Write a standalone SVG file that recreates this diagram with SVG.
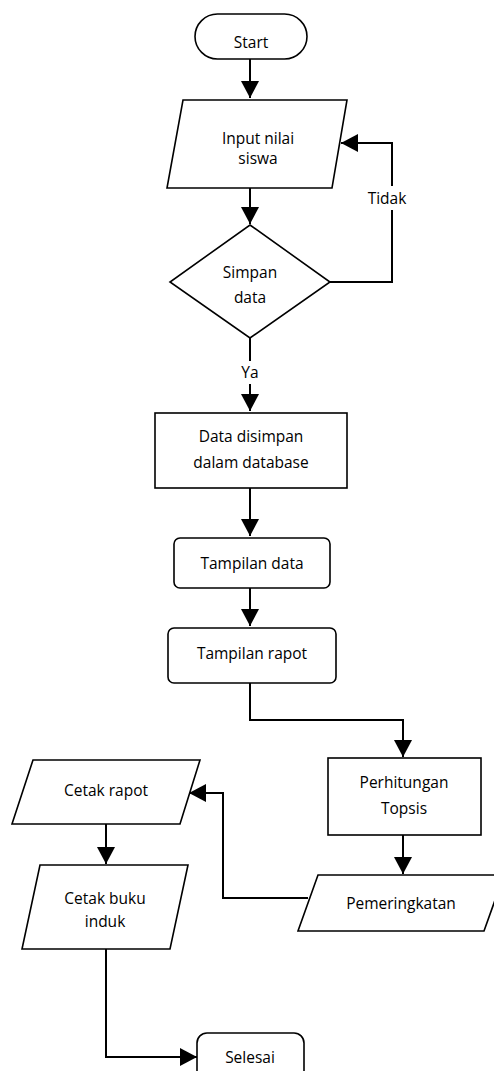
<svg xmlns="http://www.w3.org/2000/svg" width="494" height="1071" viewBox="0 0 494 1071">
  <style>
    .shape { fill: #fff; stroke: #000; stroke-width: 1.6; }
    .label { font-family: "Open Sans", Lato, sans-serif; font-size: 15.5px; fill: #000; text-anchor: middle; dominant-baseline: central; }
    .edge { fill: none; stroke: #000; stroke-width: 2; }
  </style>
  <defs>
    <marker id="arrow" markerUnits="userSpaceOnUse" markerWidth="18" markerHeight="18" refX="17" refY="9" orient="auto">
      <path d="M0,0 L17,9 L0,18 z" fill="#000"/>
    </marker>
  </defs>
  <rect width="494" height="1071" fill="#fff"/>

  <g id="connectors">
    <path class="edge" d="M250,59 V98" marker-end="url(#arrow)"/>
    <path class="edge" d="M250,188 V224" marker-end="url(#arrow)"/>
    <path class="edge" d="M330,282 H392 V210 M392,186 V143 H341" marker-end="url(#arrow)"/>
    <path class="edge" d="M250,338 V361 M250,384 V411" marker-end="url(#arrow)"/>
    <path class="edge" d="M250,488 V536" marker-end="url(#arrow)"/>
    <path class="edge" d="M250,588 V626" marker-end="url(#arrow)"/>
    <path class="edge" d="M250,683 V720 H403 V757" marker-end="url(#arrow)"/>
    <path class="edge" d="M403,835 V874" marker-end="url(#arrow)"/>
    <path class="edge" d="M308,898 H223 V793 H189" marker-end="url(#arrow)"/>
    <path class="edge" d="M106,824 V864" marker-end="url(#arrow)"/>
    <path class="edge" d="M106,949 V1057 H197" marker-end="url(#arrow)"/>
    <text class="label" x="387" y="198">Tidak</text>
    <text class="label" x="250" y="372">Ya</text>
  </g>

  <g id="start">
    <rect class="shape" x="195" y="14" width="112" height="45" rx="22.5"/>
    <text class="label" x="251" y="42">Start</text>
  </g>

  <g id="input-nilai">
    <polygon class="shape" points="183,100 347,100 332,188 167,188"/>
    <text class="label" x="258" y="138">Input nilai</text>
    <text class="label" x="258" y="158">siswa</text>
  </g>

  <g id="simpan-data">
    <polygon class="shape" points="250,225 330,282 250,338 170,282"/>
    <text class="label" x="250" y="272">Simpan</text>
    <text class="label" x="250" y="297">data</text>
  </g>

  <g id="data-disimpan">
    <rect class="shape" x="155" y="413" width="192" height="75"/>
    <text class="label" x="251" y="436">Data disimpan</text>
    <text class="label" x="251" y="462">dalam database</text>
  </g>

  <g id="tampilan-data">
    <rect class="shape" x="174" y="538" width="156" height="50" rx="6"/>
    <text class="label" x="252" y="563">Tampilan data</text>
  </g>

  <g id="tampilan-rapot">
    <rect class="shape" x="168" y="628" width="168" height="55" rx="6"/>
    <text class="label" x="252" y="653">Tampilan rapot</text>
  </g>

  <g id="perhitungan-topsis">
    <rect class="shape" x="328" y="758" width="153" height="77"/>
    <text class="label" x="404" y="782">Perhitungan</text>
    <text class="label" x="404" y="808">Topsis</text>
  </g>

  <g id="pemeringkatan">
    <polygon class="shape" points="318,875 504,875 484,931 298,931"/>
    <text class="label" x="401" y="903">Pemeringkatan</text>
  </g>

  <g id="cetak-rapot">
    <polygon class="shape" points="33,760 200,760 180,824 12,824"/>
    <text class="label" x="106" y="790">Cetak rapot</text>
  </g>

  <g id="cetak-buku-induk">
    <polygon class="shape" points="40,865 188,865 170,949 22,949"/>
    <text class="label" x="105" y="898">Cetak buku</text>
    <text class="label" x="105" y="921">induk</text>
  </g>

  <g id="selesai">
    <rect class="shape" x="197" y="1033" width="107" height="50" rx="10"/>
    <text class="label" x="250" y="1057">Selesai</text>
  </g>
</svg>
